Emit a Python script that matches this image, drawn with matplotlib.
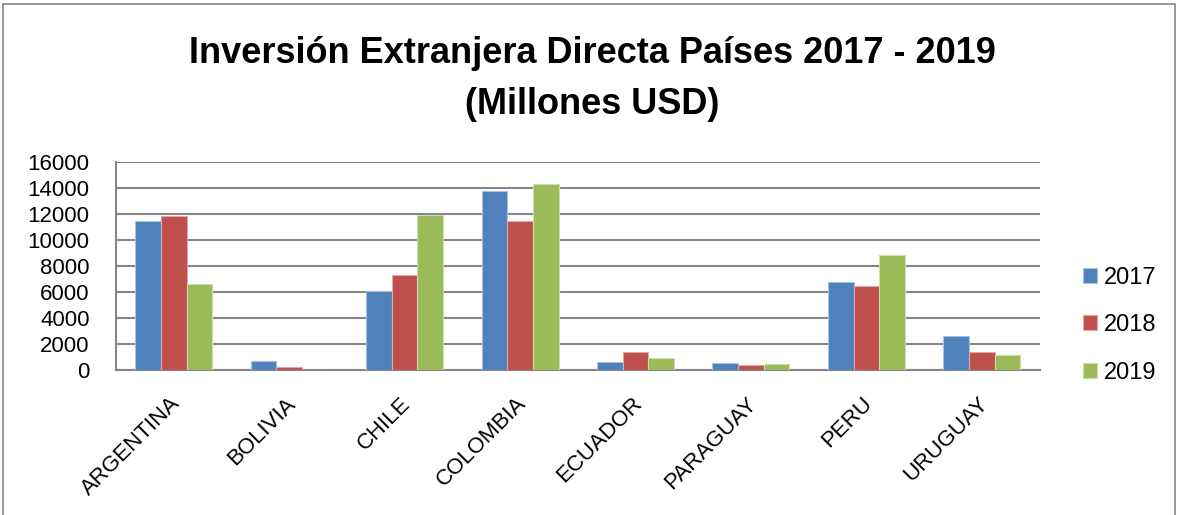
import matplotlib
matplotlib.use("Agg")
import matplotlib.pyplot as plt
import matplotlib.transforms as mtransforms
import numpy as np
from matplotlib.patches import Rectangle

categories = ["ARGENTINA", "BOLIVIA", "CHILE", "COLOMBIA", "ECUADOR", "PARAGUAY", "PERU", "URUGUAY"]
years = ["2017", "2018", "2019"]
v2017 = [11500, 680, 6100, 13800, 600, 540, 6800, 2600]
v2018 = [11850, 260, 7270, 11500, 1380, 400, 6450, 1380]
v2019 = [6600, 0, 11930, 14300, 900, 480, 8860, 1150]
series = [v2017, v2018, v2019]
colors = ["#4F81BD", "#C0504D", "#9BBB59"]
edges = ["#A7C0DE", "#DFA8A6", "#CDDDAC"]
yticks = [0, 2000, 4000, 6000, 8000, 10000, 12000, 14000, 16000]

plt.rcParams['font.family'] = ['Liberation Sans', 'DejaVu Sans']

fig = plt.figure(figsize=(11.84, 5.15), dpi=100)
ax = fig.add_axes([0.098, 0.2816, 0.78, 0.4038])

x = np.arange(len(categories))
bw = 1 / 4.5
for i, (vals, c, e, lab) in enumerate(zip(series, colors, edges, years)):
    ax.bar(x + (i - 1) * bw, vals, width=bw, color=c, edgecolor=e, linewidth=0.8, label=lab, zorder=3)

ax.set_xlim(-0.5, len(categories) - 0.5)
ax.set_ylim(0, 16000)
ax.set_yticks(yticks)
ax.set_yticklabels([str(t) for t in yticks], fontsize=16)
ax.yaxis.grid(True, color="#868686", linewidth=1.5, zorder=0)
ax.set_axisbelow(True)
ax.set_xticks(x)
ax.set_xticklabels(categories, rotation=45, ha="right", va="center", rotation_mode="anchor", fontsize=16)
ax.tick_params(axis="x", length=0, pad=22)
ax.tick_params(axis="y", length=0, pad=19)
offset = mtransforms.ScaledTranslation(3 / 100, 0, fig.dpi_scale_trans)
for lbl in ax.get_xticklabels():
    lbl.set_transform(lbl.get_transform() + offset)
for s in ["top", "right"]:
    ax.spines[s].set_visible(False)
ax.spines["left"].set_color("#868686")
ax.spines["left"].set_linewidth(1.5)
ax.spines["bottom"].set_color("#868686")
ax.spines["bottom"].set_linewidth(1.5)

leg = ax.legend(loc="center left", bbox_to_anchor=(1.047, 0.216), frameon=False,
                fontsize=17, labelspacing=1.08, handlelength=0.6, handleheight=0.6,
                handletextpad=0.3, borderpad=0, borderaxespad=0)

fig.text(0.5, 0.897, "Inversión Extranjera Directa Países 2017 - 2019", ha="center", va="center",
         fontsize=26, fontweight="bold")
fig.text(0.5, 0.797, "(Millones USD)", ha="center", va="center", fontsize=26, fontweight="bold")

fig.patches.append(Rectangle((0.0025, -0.01), 0.99, 1.002, transform=fig.transFigure,
                             fill=False, edgecolor="#868686", linewidth=1.2))

fig.savefig("out.png", dpi=100, facecolor="white")
